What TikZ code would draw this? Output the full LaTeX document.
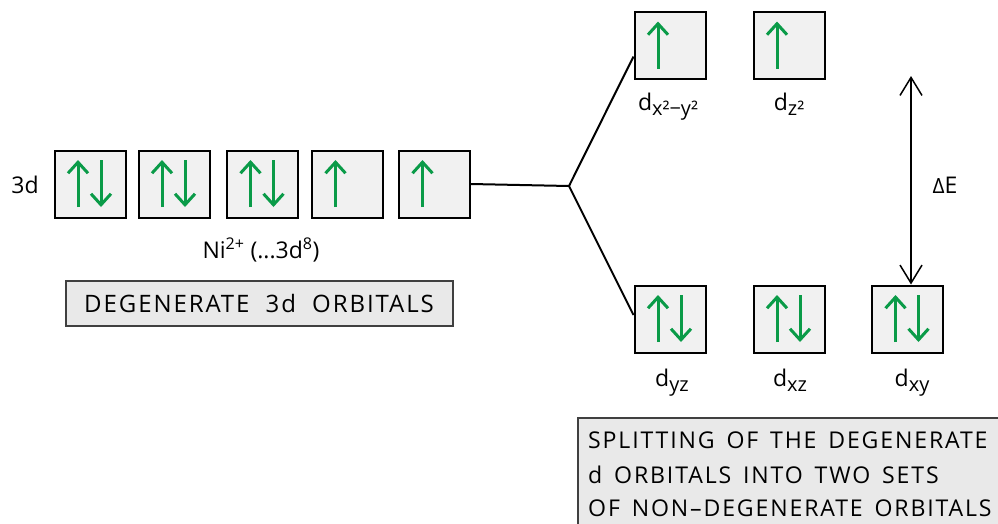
\documentclass[tikz,border=0pt]{standalone}
\usepackage{fontspec}
\setmainfont{Open Sans}
\usetikzlibrary{arrows.meta}
\definecolor{spingreen}{RGB}{10,155,72}
\definecolor{boxgray}{RGB}{241,241,241}
\definecolor{labgray}{RGB}{233,233,233}
\tikzset{
  orb/.style={draw=black, fill=boxgray, line width=2pt, minimum width=71pt, minimum height=67pt, inner sep=0pt},
  spin/.style={draw=spingreen, line width=3pt, -{Straight Barb[length=11pt,width=20pt,line width=3pt]}},
  conn/.style={draw=black, line width=2pt},
  lab/.style={font=\fontsize{23}{27}\selectfont, inner sep=0pt},
  caption/.style={draw=black!75, fill=labgray, line width=1.5pt, inner sep=0pt},
  capfont/.style={font=\fontsize{24}{34}\selectfont\addfontfeatures{LetterSpace=8}, inner sep=0pt},
  capfontb/.style={font=\fontsize{23.1}{34}\selectfont\addfontfeatures{LetterSpace=8}, inner sep=0pt},
  earrow/.style={draw=black, line width=1.5pt, {Straight Barb[length=18pt,width=22pt,line width=1.5pt]}-{Straight Barb[length=18pt,width=22pt,line width=1.5pt]}}
}
\newcommand{\up}[1]{\draw[spin] ([shift={(-12,23)}]#1.center) -- ([shift={(-12,-24)}]#1.center);}
\newcommand{\dn}[1]{\draw[spin] ([shift={(11,-24)}]#1.center) -- ([shift={(11,23)}]#1.center);}
\newcommand{\sbs}[1]{\raisebox{-5pt}{\fontsize{20}{20}\selectfont #1}}
\begin{document}
\begin{tikzpicture}[x=1pt,y=-1pt]
\useasboundingbox (0,0) rectangle (998,523);
\clip (0,0) rectangle (998,523);
% left row
\node[orb] (a1) at (90,184) {};
\node[orb] (a2) at (174,184) {};
\node[orb] (a3) at (262.5,184) {};
\node[orb] (a4) at (347.5,184) {};
\node[orb] (a5) at (434.5,184) {};
\up{a1}\dn{a1}
\up{a2}\dn{a2}
\up{a3}\dn{a3}
\up{a4}
\up{a5}
\node[lab] (l3d) at (25,185) {3d};
\node[lab] (ni) at (261,250) {Ni\textsuperscript{2+} (...3d\textsuperscript{8})};
\node[caption, minimum width=387pt, minimum height=45pt] (degbox) at (259.5,303.5) {};
\node[capfont] (degtxt) at (259,303.5) {DEGENERATE\hspace{8pt} 3d\hspace{8pt} ORBITALS};
% right top
\node[orb] (t1) at (670,45.5) {};
\node[orb] (t2) at (789,45.5) {};
\up{t1}
\up{t2}
\node[lab, anchor=base] (lt1) at (668,110) {d\sbs{x²−y²}};
\node[lab, anchor=base] (lt2) at (789,110) {d\sbs{z²}};
% right bottom
\node[orb] (b1) at (670,319) {};
\node[orb] (b2) at (789,319) {};
\node[orb] (b3) at (907.5,319) {};
\up{b1}\dn{b1}
\up{b2}\dn{b2}
\up{b3}\dn{b3}
\node[lab, anchor=base] (lb1) at (672,386) {d\sbs{yz}};
\node[lab, anchor=base] (lb2) at (790,386) {d\sbs{xz}};
\node[lab, anchor=base] (lb3) at (912,386) {d\sbs{xy}};
% connectors
\coordinate (br) at (569,186);
\draw[conn] (a5.east) -- (br) -- ([yshift=-11]t1.west);
\draw[conn] (br) -- ([yshift=4]b1.west);
\coordinate (etop) at (911,76);
\draw[earrow] (etop) -- ([xshift=3.5]b3.north);
\node[lab] (de) at (945,185) {{\fontsize{21}{21}\selectfont Δ}E};
% splitting caption
\node[caption, anchor=north west, minimum width=500pt, minimum height=150pt] (splitbox) at (577,417) {};
\node[capfontb, anchor=west] (s1) at (588,440) {SPLITTING\hspace{4pt} OF\hspace{4pt} THE\hspace{4pt} DEGENERATE};
\node[capfontb, anchor=west] (s2) at (588,475) {d\hspace{4pt} ORBITALS\hspace{4pt} INTO\hspace{4pt} TWO\hspace{4pt} SETS};
\node[capfontb, anchor=west] (s3) at (588,508) {OF\hspace{4pt} NON–DEGENERATE\hspace{4pt} ORBITALS};
\end{tikzpicture}
\end{document}
